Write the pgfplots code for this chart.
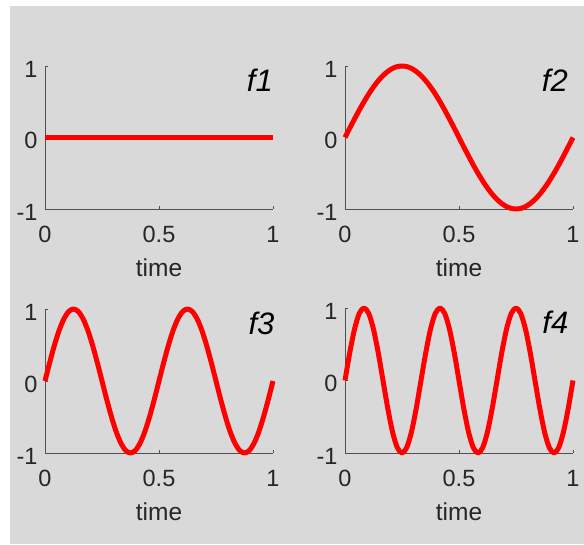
\documentclass[border=0pt]{standalone}
\usepackage{fontspec}
\setmainfont{Liberation Sans}
\usepackage{pgfplots}
\pgfplotsset{compat=1.18}
\usepackage{pgfplotstable}

\definecolor{figbg}{RGB}{217,217,217}
\definecolor{axcol}{RGB}{38,38,38}

% one period of time sampled at t = k/48; f1 = 0, f2..f4 = sin(2*pi*n*t), n = 1, 2, 3
\pgfplotstableread{
t      f1  f2       f3       f4
0      0   0        0        0
0.0208 0   0.1305   0.2588   0.3827
0.0417 0   0.2588   0.5      0.7071
0.0625 0   0.3827   0.7071   0.9239
0.0833 0   0.5      0.8660   1
0.1042 0   0.6088   0.9659   0.9239
0.125  0   0.7071   1        0.7071
0.1458 0   0.7934   0.9659   0.3827
0.1667 0   0.8660   0.8660   0
0.1875 0   0.9239   0.7071  -0.3827
0.2083 0   0.9659   0.5     -0.7071
0.2292 0   0.9914   0.2588  -0.9239
0.25   0   1        0       -1
0.2708 0   0.9914  -0.2588  -0.9239
0.2917 0   0.9659  -0.5     -0.7071
0.3125 0   0.9239  -0.7071  -0.3827
0.3333 0   0.8660  -0.8660   0
0.3542 0   0.7934  -0.9659   0.3827
0.375  0   0.7071  -1        0.7071
0.3958 0   0.6088  -0.9659   0.9239
0.4167 0   0.5     -0.8660   1
0.4375 0   0.3827  -0.7071   0.9239
0.4583 0   0.2588  -0.5      0.7071
0.4792 0   0.1305  -0.2588   0.3827
0.5    0   0        0        0
0.5208 0  -0.1305   0.2588  -0.3827
0.5417 0  -0.2588   0.5     -0.7071
0.5625 0  -0.3827   0.7071  -0.9239
0.5833 0  -0.5      0.8660  -1
0.6042 0  -0.6088   0.9659  -0.9239
0.625  0  -0.7071   1       -0.7071
0.6458 0  -0.7934   0.9659  -0.3827
0.6667 0  -0.8660   0.8660   0
0.6875 0  -0.9239   0.7071   0.3827
0.7083 0  -0.9659   0.5      0.7071
0.7292 0  -0.9914   0.2588   0.9239
0.75   0  -1        0        1
0.7708 0  -0.9914  -0.2588   0.9239
0.7917 0  -0.9659  -0.5      0.7071
0.8125 0  -0.9239  -0.7071   0.3827
0.8333 0  -0.8660  -0.8660   0
0.8542 0  -0.7934  -0.9659  -0.3827
0.875  0  -0.7071  -1       -0.7071
0.8958 0  -0.6088  -0.9659  -0.9239
0.9167 0  -0.5     -0.8660  -1
0.9375 0  -0.3827  -0.7071  -0.9239
0.9583 0  -0.2588  -0.5     -0.7071
0.9792 0  -0.1305  -0.2588  -0.3827
1      0   0        0        0
}\signals

\pgfplotsset{
  panel/.style={
    scale only axis, width=228pt, height=143pt,
    xmin=0, xmax=1, ymin=-1, ymax=1,
    xtick={0,0.5,1}, ytick={-1,0,1},
    axis x line*=bottom, axis y line*=left,
    axis line style={-, draw=axcol!80, line width=0.7pt},
    x axis line style={shorten <=3pt},
    y axis line style={shorten <=2pt},
    tick align=inside, major tick length=3pt,
    tick style={draw=axcol!80, line width=0.6pt},
    /pgf/number format/assume math mode=true,
    ticklabel style={font=\fontsize{23.5}{23.5}\selectfont, text=axcol},
    xticklabel style={yshift=-14pt},
    yticklabel style={xshift=-4pt, yshift=-3pt},
    xlabel={time},
    every axis x label/.style={at={(axis description cs:0.5,0)}, anchor=center,
      yshift=-59pt, font=\fontsize{24.5}{24.5}\selectfont, text=axcol},
    clip=false,
  },
  sig/.style={red, line width=5pt, smooth, line join=round},
}

% panel name in the upper right corner
\newcommand{\fname}[2]{\node[anchor=east, font=\fontsize{31}{31}\itshape\selectfont, inner sep=0pt]
  at (rel axis cs:#1,0.9) {#2};}

\begin{document}
\begin{tikzpicture}
\path[use as bounding box] (0pt,0pt) rectangle (584pt,544pt);
\fill[white] (0pt,0pt) rectangle (584pt,544pt);
\fill[figbg] (9.5pt,0pt) rectangle (584pt,538pt);

\begin{axis}[panel, at={(45pt,335pt)}, anchor=south west]
  \addplot[sig] table[x=t, y=f1] {\signals};
  \fname{1.0}{f1}
\end{axis}

\begin{axis}[panel, at={(345pt,335pt)}, anchor=south west]
  \addplot[sig] table[x=t, y=f2] {\signals};
  \fname{0.978}{f2}
\end{axis}

\begin{axis}[panel, at={(45pt,91pt)}, anchor=south west, height=144pt]
  \addplot[sig] table[x=t, y=f3] {\signals};
  \fname{1.007}{f3}
\end{axis}

\begin{axis}[panel, at={(345pt,91pt)}, anchor=south west, height=145pt]
  \addplot[sig] table[x=t, y=f4] {\signals};
  \fname{0.98}{f4}
\end{axis}
\end{tikzpicture}
\end{document}
